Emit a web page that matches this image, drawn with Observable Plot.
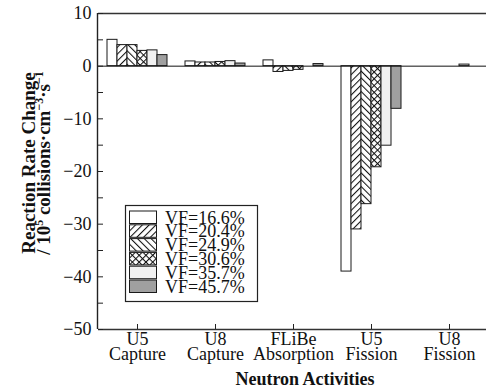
<!DOCTYPE html>
<html>
<head>
<meta charset="utf-8">
<script src="https://cdn.jsdelivr.net/npm/d3@7"></script>
<script src="https://cdn.jsdelivr.net/npm/@observablehq/plot@0.6"></script>
<style>
  html, body { margin: 0; padding: 0; background: white; overflow: hidden; }
  #chart svg { display: block; }
</style>
</head>
<body>
<div id="chart"></div>
<script>
// Neutron activity categories (x facets)
const activities = ["U5\nCapture", "U8\nCapture", "FLiBe\nAbsorption", "U5\nFission", "U8\nFission"];

// Fuel volume fraction series
const vfLabels = ["VF=16.6%", "VF=20.4%", "VF=24.9%", "VF=30.6%", "VF=35.7%", "VF=45.7%"];

// Reaction rate change (10^5 collisions·cm^-3·s^-1), one array per series, ordered as activities
const vf166 = [5.0, 0.9, 1.1, -39.0, 0.0];
const vf204 = [4.0, 0.7, -1.1, -31.0, 0.0];
const vf249 = [4.0, 0.7, -0.9, -26.2, 0.0];
const vf306 = [2.9, 0.8, -0.7, -19.2, 0.0];
const vf357 = [3.0, 0.95, 0.0, -15.1, 0.3];
const vf457 = [2.1, 0.5, 0.4, -8.1, 0.0];

// Axis ticks
const yMinorTicks = [10, 5, 0, -5, -10, -15, -20, -25, -30, -35, -40, -45, -50];
const yLabelTicks = [10, 0, -10, -20, -30, -40, -50];

// Fill styles per series (patterns are defined in <defs> below)
const fills = ["white", "url(#hatch-fwd)", "url(#hatch-back)", "url(#hatch-cross)", "#f1f1f1", "#a0a0a0"];

const seriesValues = [vf166, vf204, vf249, vf306, vf357, vf457];
const rows = [];
vfLabels.forEach((vf, i) => {
  activities.forEach((act, j) => rows.push({activity: act, vf, value: seriesValues[i][j]}));
});

const fmt = d => d < 0 ? "\u2212" + Math.abs(d) : String(d);
const serif = "'Liberation Serif', 'Times New Roman', serif";

const chart = Plot.plot({
  width: 486,
  height: 388,
  marginLeft: 97,
  marginRight: 0,
  marginTop: 13,
  marginBottom: 59,
  style: {fontFamily: serif, fontSize: "18px", color: "#111", background: "white", overflow: "hidden"},
  fx: {domain: activities, range: [97, 489.5], padding: 0, label: null},
  x: {domain: vfLabels, paddingInner: 0, paddingOuter: 0.74, axis: null},
  y: {domain: [-50, 10], label: null},
  color: {domain: vfLabels, range: fills},
  marks: [
    Plot.barY(rows, {fx: "activity", x: "vf", y: "value", fill: "vf", stroke: "#1a1a1a", strokeWidth: 1}),
    Plot.ruleY([0], {stroke: "#111", strokeWidth: 1}),
    Plot.ruleY([10, -50], {stroke: "#333", strokeWidth: 1.4}),
    Plot.axisY({anchor: "left", ticks: yMinorTicks, tickSize: -5, text: null, label: null, stroke: "#222"}),
    Plot.axisY({anchor: "left", ticks: yLabelTicks, tickSize: 0, tickPadding: 7, tickFormat: fmt, label: null, fill: "#111"}),
    Plot.axisFx({anchor: "bottom", tickSize: -5, tickPadding: 11, lineHeight: 0.78, label: null, fill: "#111", stroke: "#222"})
  ]
});

document.getElementById("chart").appendChild(chart);

const svg = d3.select(chart);

// Hatch patterns used by the bar fills
const defs = svg.insert("defs", ":first-child");
function hatch(id, angle, cross) {
  const p = defs.append("pattern")
    .attr("id", id)
    .attr("patternUnits", "userSpaceOnUse")
    .attr("width", 4.8).attr("height", 4.8)
    .attr("patternTransform", `rotate(${angle})`);
  p.append("rect").attr("width", 4.8).attr("height", 4.8).attr("fill", "white");
  p.append("line").attr("x1", 0.5).attr("y1", 0).attr("x2", 0.5).attr("y2", 4.8)
    .attr("stroke", "#111").attr("stroke-width", 1.1);
  if (cross) {
    p.append("line").attr("x1", 0).attr("y1", 0.5).attr("x2", 4.8).attr("y2", 0.5)
      .attr("stroke", "#111").attr("stroke-width", 1.1);
  }
}
hatch("hatch-fwd", 45, false);
hatch("hatch-back", -45, false);
hatch("hatch-cross", 45, true);

// Left spine of the plot frame
svg.append("line")
  .attr("x1", 97.5).attr("x2", 97.5).attr("y1", 13).attr("y2", 329)
  .attr("stroke", "#222").attr("stroke-width", 1.4);

// Y axis title with superscripts
const yTitle = svg.append("text")
  .attr("transform", "translate(0,163) rotate(-90)")
  .attr("text-anchor", "middle")
  .attr("font-family", serif)
  .attr("font-weight", "bold")
  .attr("font-size", 19)
  .attr("fill", "#111");
yTitle.append("tspan").attr("x", 0).attr("y", 35).text("Reaction Rate Change");
const l2 = yTitle.append("tspan").attr("x", 0).attr("y", 50);
l2.append("tspan").text("/ 10");
l2.append("tspan").attr("dy", -7).attr("font-size", 12).text("5");
l2.append("tspan").attr("dy", 7).text(" collisions\u00b7cm");
l2.append("tspan").attr("dy", -7).attr("font-size", 12).text("\u22123");
l2.append("tspan").attr("dy", 7).text("\u00b7s");
l2.append("tspan").attr("dy", -7).attr("font-size", 12).text("\u22121");

// X axis title
svg.append("text")
  .attr("x", 305).attr("y", 385)
  .attr("text-anchor", "middle")
  .attr("font-family", serif)
  .attr("font-weight", "bold")
  .attr("font-size", 18)
  .attr("fill", "#111")
  .text("Neutron Activities");

// Legend box inside the plot
const lg = svg.append("g")
  .attr("font-family", serif)
  .attr("font-size", 18)
  .attr("text-anchor", "start");
lg.append("rect").attr("x", 125.5).attr("y", 205.5).attr("width", 132).attr("height", 96)
  .attr("fill", "white").attr("stroke", "#222").attr("stroke-width", 1.2);
vfLabels.forEach((vf, i) => {
  const y0 = 211 + i * 13.8;
  lg.append("rect").attr("x", 129.5).attr("y", y0).attr("width", 27).attr("height", 12.5)
    .attr("fill", fills[i]).attr("stroke", "#1a1a1a").attr("stroke-width", 1);
  lg.append("text").attr("x", 165).attr("y", y0 + 12.5).attr("fill", "#111").text(vf);
});
</script>
</body>
</html>
